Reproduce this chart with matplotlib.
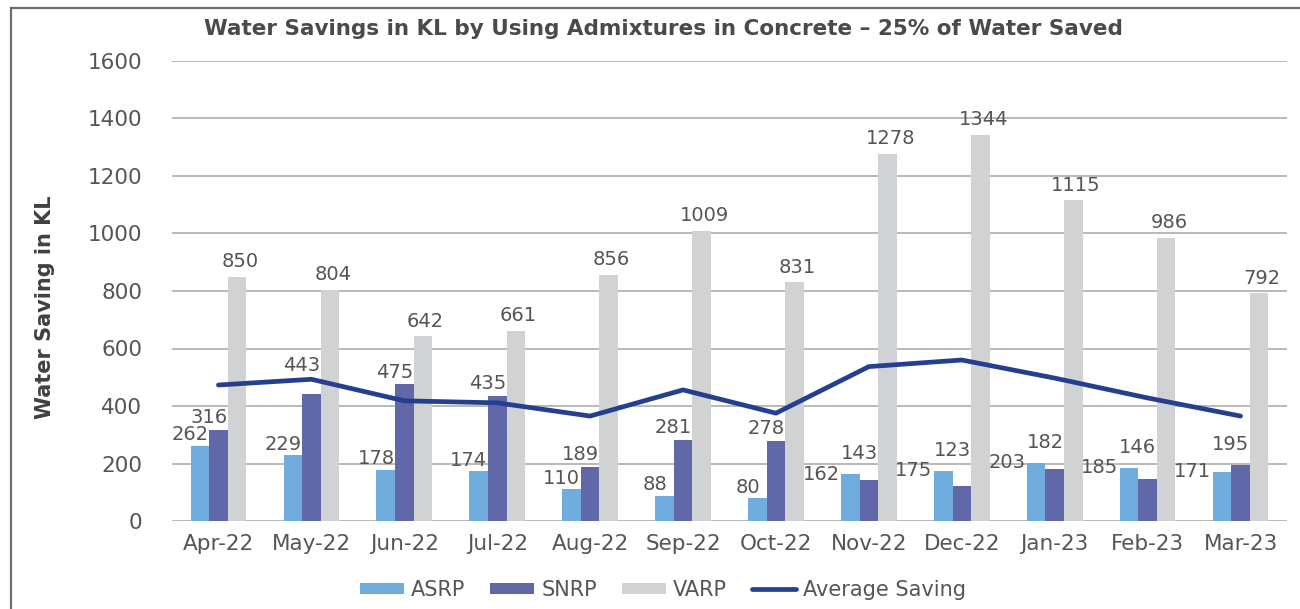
import matplotlib
matplotlib.use("Agg")
import matplotlib.pyplot as plt
import numpy as np
from matplotlib.lines import Line2D

plt.rcParams['font.family'] = ['DejaVu Sans']

months = ['Apr-22', 'May-22', 'Jun-22', 'Jul-22', 'Aug-22', 'Sep-22',
          'Oct-22', 'Nov-22', 'Dec-22', 'Jan-23', 'Feb-23', 'Mar-23']
asrp = [262, 229, 178, 174, 110, 88, 80, 162, 175, 203, 185, 171]
snrp = [316, 443, 475, 435, 189, 281, 278, 143, 123, 182, 146, 195]
varp = [850, 804, 642, 661, 856, 1009, 831, 1278, 1344, 1115, 986, 792]
avg_saving = [473, 493, 418, 411, 365, 456, 375, 537, 560, 497, 428, 365]
yticks = [0, 200, 400, 600, 800, 1000, 1200, 1400, 1600]

c_asrp = '#70ADDE'
c_snrp = '#6068A8'
c_varp = '#D1D2D4'
c_line = '#243F8F'
c_text = '#555555'

W, H = 1300, 609
fig = plt.figure(figsize=(13, 6.09), dpi=100)
ax = fig.add_axes([172 / W, 1 - 521 / H, (1287 - 172) / W, 460 / H])

x = np.arange(len(months))
bw = 0.2
b1 = ax.bar(x - bw, asrp, bw, color=c_asrp, label='ASRP', zorder=2)
b2 = ax.bar(x, snrp, bw, color=c_snrp, label='SNRP', zorder=2)
b3 = ax.bar(x + bw, varp, bw, color=c_varp, label='VARP', zorder=2)
ln, = ax.plot(x, avg_saving, color=c_line, lw=3.4, label='Average Saving',
              zorder=3, solid_capstyle='round', solid_joinstyle='round')

ax.set_xlim(-0.5, len(months) - 0.5)
ax.set_ylim(0, 1600)
ax.set_yticks(yticks)
ax.set_xticks(x)
ax.set_xticklabels(months)
ax.tick_params(axis='both', length=0, labelsize=15.5, colors=c_text)
ax.tick_params(axis='y', pad=21.5)
ax.tick_params(axis='x', pad=9)
for s in ax.spines.values():
    s.set_visible(False)
ax.grid(axis='y', color='#B3B3B3', lw=1.3, zorder=0)
ax.set_axisbelow(True)

lab_fs = 14
for i in range(len(months)):
    # ASRP
    if i < 7:
        ax.annotate(str(asrp[i]), (x[i] - bw, asrp[i]), xytext=(-7, 1),
                    textcoords='offset points', ha='center', va='bottom',
                    fontsize=lab_fs, color=c_text)
    else:
        ax.annotate(str(asrp[i]), (x[i] - 1.5 * bw, asrp[i]), xytext=(-1, 0),
                    textcoords='offset points', ha='right', va='center',
                    fontsize=lab_fs, color=c_text)
    # SNRP
    top = max(asrp[i], snrp[i])
    dy = 2 if i < 7 else 8
    if avg_saving[i] > snrp[i] and avg_saving[i] - snrp[i] < 80:
        top = avg_saving[i]
        dy = 3
    ax.annotate(str(snrp[i]), (x[i], top), xytext=(-7, dy),
                textcoords='offset points', ha='center', va='bottom',
                fontsize=lab_fs, color=c_text)
    # VARP
    ax.annotate(str(varp[i]), (x[i] + bw, varp[i]), xytext=(2, 4),
                textcoords='offset points', ha='center', va='bottom',
                fontsize=lab_fs, color=c_text)

ax.set_ylabel('Water Saving in KL', fontsize=15, fontweight='bold',
              color='#404040')
ax.yaxis.set_label_coords(-(172 - 55) / (1287 - 172), (521 - 307) / 460)

fig.text(663 / W, 1 - 29 / H,
         'Water Savings in KL by Using Admixtures in Concrete \u2013 25% of Water Saved',
         ha='center', va='center', fontsize=15.5, fontweight='bold', color='#4A4A4A')

leg = fig.legend(handles=[b1, b2, b3, ln], loc='center', bbox_to_anchor=(663 / W, 1 - 590 / H),
                 ncol=4, frameon=False, fontsize=15, handlelength=2.1, handleheight=0.45,
                 columnspacing=1.2, handletextpad=0.35, labelcolor=c_text)

fig.add_artist(Line2D([11 / W, 11 / W], [0, 1 - 8 / H], transform=fig.transFigure,
                      color='#6E6E6E', lw=1.6))
fig.add_artist(Line2D([11 / W, 1], [1 - 8 / H, 1 - 8 / H], transform=fig.transFigure,
                      color='#6E6E6E', lw=1.6))

fig.savefig('out.png', dpi=100, facecolor='white')
